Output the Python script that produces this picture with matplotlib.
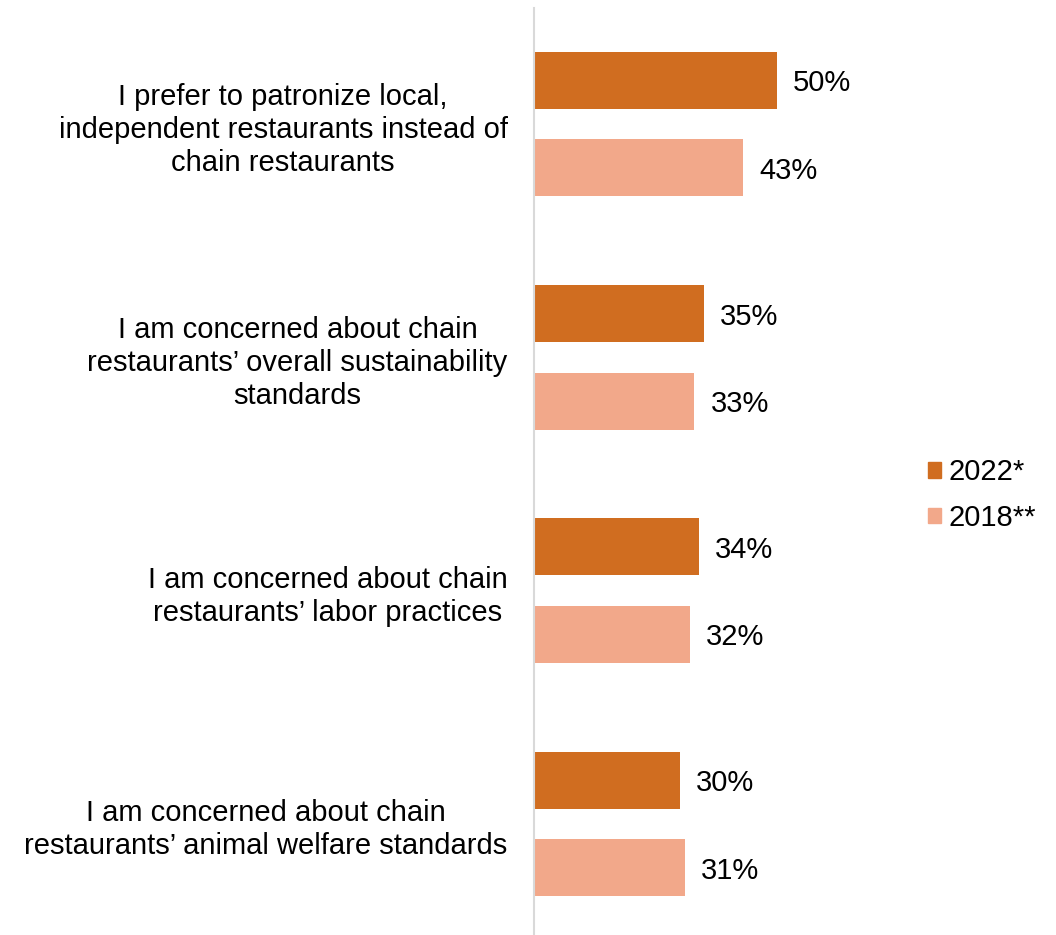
import matplotlib.pyplot as plt
import numpy as np
from matplotlib.patches import Patch

plt.rcParams['font.family'] = ['Liberation Sans', 'DejaVu Sans']

categories = [
    "I prefer to patronize local,\nindependent restaurants instead of\nchain restaurants",
    "I am concerned about chain\nrestaurants\u2019 overall sustainability\nstandards",
    "I am concerned about chain\nrestaurants\u2019 labor practices",
    "I am concerned about chain\nrestaurants\u2019 animal welfare standards",
]
series_names = ["2022*", "2018**"]
values_2022 = [50, 35, 34, 30]
values_2018 = [43, 33, 32, 31]
colors = ["#D06D20", "#F2A88A"]

fig = plt.figure(figsize=(10.56, 9.35), dpi=100)
ax = fig.add_axes([534 / 1056, -5.4 / 935, (900 - 534) / 1056, 932.8 / 935])

y = np.arange(len(categories))
off = 0.1875
h = 0.245
ax.barh(y - off, values_2022, height=h, color=colors[0])
ax.barh(y + off, values_2018, height=h, color=colors[1])

for yy, v in zip(y - off, values_2022):
    ax.text(v + 3.3, yy, f"{v}%", va='center_baseline', ha='left', fontsize=21)
for yy, v in zip(y + off, values_2018):
    ax.text(v + 3.3, yy, f"{v}%", va='center_baseline', ha='left', fontsize=21)

ax.set_ylim(3.5, -0.5)
ax.set_xlim(0, (900 - 534) / 4.86)
ax.set_xticks([])
ax.set_yticks(y)
ax.set_yticklabels(categories, fontsize=21, multialignment='center', linespacing=1.24)
ax.tick_params(axis='y', length=0, pad=19)
for s in ['top', 'right', 'bottom']:
    ax.spines[s].set_visible(False)
ax.spines['left'].set_color('#D9D9D9')
ax.spines['left'].set_linewidth(1.5)

handles = [Patch(color=c, label=n) for c, n in zip(colors, series_names)]
fig.legend(handles=handles, loc='center left', bbox_to_anchor=(902 / 1056, 1 - 495 / 935),
           frameon=False, fontsize=21, handlelength=0.45, handleheight=0.45,
           handletextpad=0.25, labelspacing=0.6)

fig.savefig("out.png", dpi=100)
